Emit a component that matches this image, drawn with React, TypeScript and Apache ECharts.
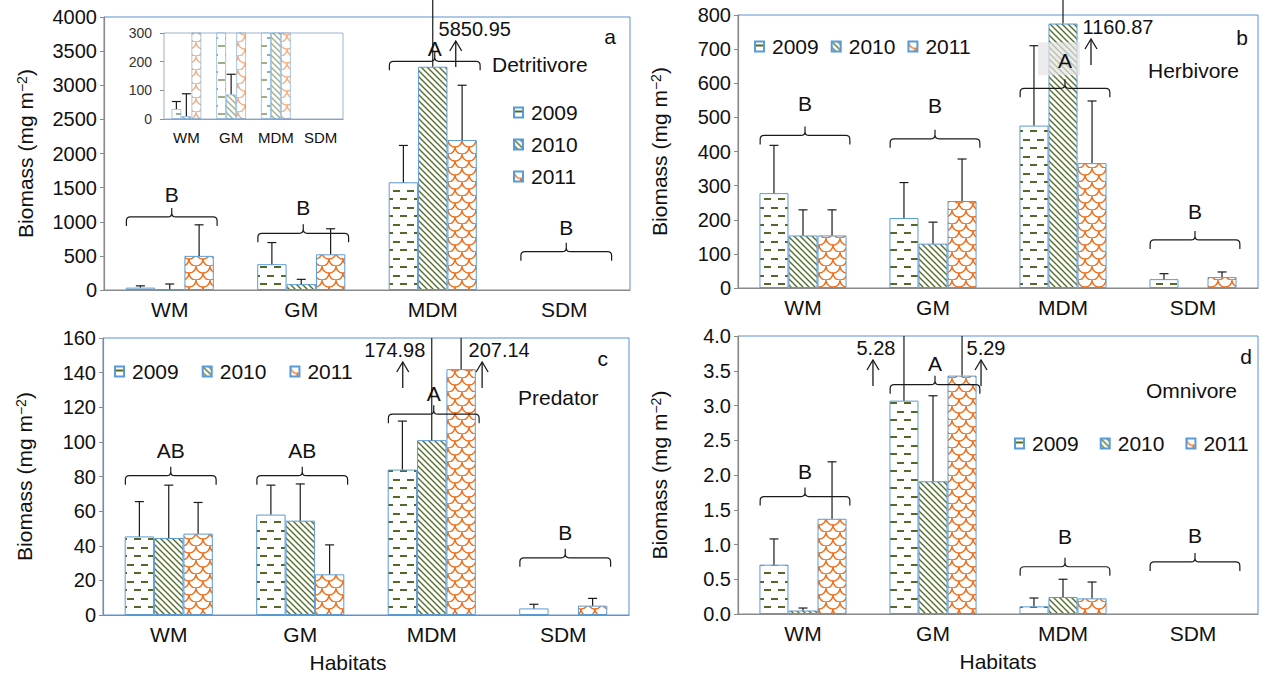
import React, { useEffect, useRef } from 'react';
import * as echarts from 'echarts';

const habitats = ['WM', 'GM', 'MDM', 'SDM'];
const years = ['2009', '2010', '2011'];
const panelTags = ['a', 'b', 'c', 'd'];
const panelNames = ['Detritivore', 'Herbivore', 'Predator', 'Omnivore'];

// (a) Detritivore
const detritivore2009 = [35, 378, 1578, 0];
const detritivore2010 = [10, 86, 3271, 0];
const detritivore2011 = [500, 523, 2197, 0];
const detritivoreUpper2009 = [61, 695, 2118, null];
const detritivoreUpper2010 = [88, 156, 5850.95, null];
const detritivoreUpper2011 = [955, 897, 3000, null];
const detritivoreBraceLevel = [1070, 831, 3350, 562];
const detritivoreLetters = ['B', 'B', 'A', 'B'];
const detritivoreTicks = [0, 500, 1000, 1500, 2000, 2500, 3000, 3500, 4000];
const insetTicks = [0, 100, 200, 300];

// (b) Herbivore
const herbivore2009 = [278, 205, 476, 26];
const herbivore2010 = [154, 130, 775, 0];
const herbivore2011 = [154, 255, 366, 32];
const herbivoreUpper2009 = [418, 309, 710, 42];
const herbivoreUpper2010 = [229, 193, 1160.87, null];
const herbivoreUpper2011 = [229, 378, 548, 47];
const herbivoreBraceLevel = [447, 437, 585, 141];
const herbivoreLetters = ['B', 'B', 'A', 'B'];
const herbivoreTicks = [0, 100, 200, 300, 400, 500, 600, 700, 800];

// (c) Predator
const predator2009 = [45.4, 58, 84, 3.8];
const predator2010 = [44.5, 54.5, 101, 0];
const predator2011 = [47, 23.5, 142, 5.4];
const predatorUpper2009 = [65.5, 75, 112, 6.2];
const predatorUpper2010 = [75, 75.7, 174.98, null];
const predatorUpper2011 = [65, 40.5, 207.14, 9.6];
const predatorBraceLevel = [80.5, 80.5, 116, 33];
const predatorLetters = ['AB', 'AB', 'A', 'B'];
const predatorTicks = [0, 20, 40, 60, 80, 100, 120, 140, 160];

// (d) Omnivore
const omnivore2009 = [0.71, 3.07, 0.11, 0];
const omnivore2010 = [0.05, 1.91, 0.245, 0];
const omnivore2011 = [1.37, 3.43, 0.225, 0];
const omnivoreUpper2009 = [1.08, 5.28, 0.23, null];
const omnivoreUpper2010 = [0.086, 3.14, 0.5, null];
const omnivoreUpper2011 = [2.19, 5.29, 0.46, null];
const omnivoreBraceLevel = [1.69, 3.3, 0.68, 0.75];
const omnivoreLetters = ['B', 'A', 'B', 'B'];
const omnivoreTicks = [0, 0.5, 1, 1.5, 2, 2.5, 3, 3.5, 4];

const FF = '"Liberation Sans", Arial, Helvetica, sans-serif';
const INK = '#111111';
const AXIS = '#8a8a8a';
const FRAME = '#5b8fd0';
const BAR_BORDER = '#5b9bd5';
const GAP = 0.33;

const panels = [
  { means: [detritivore2009, detritivore2010, detritivore2011], uppers: [detritivoreUpper2009, detritivoreUpper2010, detritivoreUpper2011], levels: detritivoreBraceLevel, letters: detritivoreLetters, ticks: detritivoreTicks, dec: 0, clipErr: false },
  { means: [herbivore2009, herbivore2010, herbivore2011], uppers: [herbivoreUpper2009, herbivoreUpper2010, herbivoreUpper2011], levels: herbivoreBraceLevel, letters: herbivoreLetters, ticks: herbivoreTicks, dec: 0, clipErr: false },
  { means: [predator2009, predator2010, predator2011], uppers: [predatorUpper2009, predatorUpper2010, predatorUpper2011], levels: predatorBraceLevel, letters: predatorLetters, ticks: predatorTicks, dec: 0, clipErr: true },
  { means: [omnivore2009, omnivore2010, omnivore2011], uppers: [omnivoreUpper2009, omnivoreUpper2010, omnivoreUpper2011], levels: omnivoreBraceLevel, letters: omnivoreLetters, ticks: omnivoreTicks, dec: 1, clipErr: true },
];

const layouts = [
  { left: 104, top: 17, width: 526, height: 273, xName: '', legend: { orient: 'vertical', left: 513, top: 102, itemGap: 11 }, tag: [616, 36], title: [492, 64], notes: [[42, 23]], rise: [22, 26, 13, 24], letterBox: [false, false, false, false] },
  { left: 738, top: 15, width: 520, height: 273, xName: '', legend: { orient: 'horizontal', left: 754, top: 36, itemGap: 12 }, tag: [1248, 37], title: [1148, 70], notes: [[55, 28]], rise: [32, 33, 28, 28], letterBox: [false, false, true, false] },
  { left: 103, top: 338, width: 526, height: 277, xName: 'Habitats', legend: { orient: 'horizontal', left: 114, top: 361, itemGap: 23 }, tag: [608, 358], title: [518, 397], notes: [[-37, -29], [38, 21]], rise: [25, 25, 21, 25], letterBox: [false, false, false, false] },
  { left: 738, top: 336, width: 520, height: 278, xName: 'Habitats', legend: { orient: 'horizontal', left: 1014, top: 433, itemGap: 21 }, tag: [1252, 356], title: [1146, 390], notes: [[-28, -31], [24, 19]], rise: [25, 21, 30, 26], letterBox: [false, false, false, false] },
];
const insetLayout = { left: 164, top: 33, width: 179, height: 86 };

function makeTile(kind: number) {
  const c = document.createElement('canvas');
  let w = 14, h = 17;
  if (kind === 1) { w = 6; h = 6; }
  if (kind === 2) { w = 14; h = 14; }
  c.width = w; c.height = h;
  const ctx = c.getContext('2d')!;
  ctx.fillStyle = '#ffffff';
  ctx.fillRect(0, 0, w, h);
  if (kind === 0) {
    ctx.fillStyle = '#52692a';
    ctx.fillRect(1, 3, 7, 2);
    ctx.fillRect(8, 11, 6, 2);
    ctx.fillRect(0, 11, 1, 2);
  } else if (kind === 1) {
    ctx.strokeStyle = '#55702a';
    ctx.lineWidth = 1.4;
    ctx.beginPath();
    for (let k = -1; k <= 1; k++) {
      ctx.moveTo(-1, -1 + 6 * k);
      ctx.lineTo(7, 7 + 6 * k);
    }
    ctx.stroke();
  } else {
    ctx.strokeStyle = '#f0701e';
    ctx.lineWidth = 1.4;
    const r = 7;
    [[7, 0], [0, 7], [14, 7]].forEach(([cx, cy]) => {
      ctx.beginPath();
      ctx.arc(cx, cy, r, 0, Math.PI);
      ctx.stroke();
    });
  }
  return { image: c.toDataURL(), repeat: 'repeat', imageWidth: w, imageHeight: h };
}

export default function App() {
  const ref = useRef<HTMLDivElement>(null);
  useEffect(() => {
    if (!ref.current) return;
    const chart = echarts.init(ref.current, null, { renderer: 'svg' });
    const patterns = [makeTile(0), makeTile(1), makeTile(2)];

    const grids: any[] = [];
    const xAxes: any[] = [];
    const yAxes: any[] = [];
    const legends: any[] = [];
    const graphics: any[] = [];
    const barSeries: any[] = [];
    const customSeries: any[] = [];

    const mkX = (gi: number, fs: number, margin: number, name: string, namePad: number[]) => ({
      type: 'category', gridIndex: gi, data: habitats,
      axisLine: { lineStyle: { color: AXIS, width: 1.2 } },
      axisTick: { show: false },
      axisLabel: { fontSize: fs, color: INK, margin, fontFamily: FF, interval: 0 },
      name, nameLocation: 'middle', nameGap: 37,
      nameTextStyle: { fontSize: 21, color: INK, fontFamily: FF, padding: namePad },
    });
    const mkY = (gi: number, ticks: number[], dec: number, fs: number, withName: boolean) => ({
      type: 'value', gridIndex: gi, min: ticks[0], max: ticks[ticks.length - 1], interval: ticks[1] - ticks[0],
      axisLine: { show: true, lineStyle: { color: AXIS, width: 1.2 } },
      axisTick: { show: true, length: 4, lineStyle: { color: AXIS } },
      splitLine: { show: false },
      axisLabel: { fontSize: fs, color: withName ? INK : '#333', margin: withName ? 7 : 12, fontFamily: FF, formatter: (v: number) => v.toFixed(dec) },
      name: withName ? '{n|Biomass (mg m}{s|−2}{n|)}' : '', nameLocation: 'middle', nameGap: 68,
      nameTextStyle: { rich: { n: { fontSize: 21, fontFamily: FF, color: INK }, s: { fontSize: 14, fontFamily: FF, color: INK, verticalAlign: 'top' } } },
    });

    const mkBar = (gi: number, s: number, vals: number[], inset: boolean) => ({
      type: 'bar', name: years[s], xAxisIndex: gi, yAxisIndex: gi,
      data: vals.map((v) => (v === 0 ? '-' : v)),
      barGap: '0%', barCategoryGap: (GAP * 100) + '%',
      itemStyle: { color: patterns[s], borderColor: BAR_BORDER, borderWidth: 1, opacity: inset ? 0.55 : 1 },
      emphasis: { disabled: true }, silent: true, z: 2,
    });

    const mkErr = (gi: number, means: number[][], uppers: (number | null)[][], max: number, clip: boolean) => {
      const data: number[][] = [];
      for (let s = 0; s < 3; s++) for (let c = 0; c < 4; c++) {
        const u = uppers[s][c];
        if (u == null) continue;
        data.push([c, s, means[s][c], u]);
      }
      return {
        type: 'custom', xAxisIndex: gi, yAxisIndex: gi, silent: true, z: 5, clip: false,
        encode: { x: 0, y: 2 }, data,
        renderItem: (params: any, api: any) => {
          const c = api.value(0), s = api.value(1), m = api.value(2), u = api.value(3);
          if (clip && m >= max) return null;
          const band = api.size([1, 0])[0];
          const bw = band * (1 - GAP) / 3;
          const base = api.coord([c, m]);
          const x = base[0] + (s - 1) * bw;
          const yTop = api.coord([c, clip ? Math.min(u, max) : u])[1];
          const st = { stroke: '#1a1a1a', lineWidth: 1.2, fill: 'none' };
          const children: any[] = [{ type: 'line', shape: { x1: x, y1: base[1], x2: x, y2: yTop }, style: st }];
          if (u <= max) children.push({ type: 'line', shape: { x1: x - 4.5, y1: yTop, x2: x + 4.5, y2: yTop }, style: st });
          return { type: 'group', children };
        },
      };
    };

    panels.forEach((p, i) => {
      const L = layouts[i];
      const max = p.ticks[p.ticks.length - 1];
      grids.push({ left: L.left, top: L.top, width: L.width, height: L.height, show: true, borderColor: FRAME, borderWidth: 1, backgroundColor: 'transparent' });
      xAxes.push(mkX(i, 21, 9, L.xName, i === 2 ? [0, 36, 0, 0] : [0, 0, 0, 0]));
      yAxes.push(mkY(i, p.ticks, p.dec, 20, true));
      legends.push({
        data: years, orient: L.legend.orient, left: L.legend.left, top: L.legend.top, itemGap: L.legend.itemGap,
        padding: 0, icon: 'rect', itemWidth: 9, itemHeight: 10, selectedMode: false,
        textStyle: { fontSize: 21, fontFamily: FF, color: INK, padding: [0, 0, 0, 3] },
      });
      graphics.push({ type: 'text', x: L.tag[0], y: L.tag[1], style: { text: panelTags[i], fontSize: 21, fontFamily: FF, fill: INK, align: 'right', verticalAlign: 'middle' } });
      graphics.push({ type: 'text', x: L.title[0], y: L.title[1], style: { text: panelNames[i], fontSize: 21, fontFamily: FF, fill: INK, align: 'left', verticalAlign: 'middle' } });
      for (let s = 0; s < 3; s++) barSeries.push(mkBar(i, s, p.means[s], false));
      customSeries.push(mkErr(i, p.means, p.uppers, max, p.clipErr));

      // braces with significance letters
      const letters = p.letters;
      const boxes = L.letterBox;
      const rise = L.rise;
      customSeries.push({
        type: 'custom', xAxisIndex: i, yAxisIndex: i, silent: true, z: 6, clip: false,
        encode: { x: 0, y: 1 },
        data: p.levels.map((lv, c) => [c, lv]),
        renderItem: (params: any, api: any) => {
          const c = api.value(0), lv = api.value(1);
          const pt = api.coord([c, lv]);
          const band = api.size([1, 0])[0];
          const hw = band * 0.345;
          const C = pt[0] + 2, Y = pt[1], Lx = C - hw, R = C + hw;
          const d = 9, pk = 9, r = 4;
          const pathData = `M${Lx},${Y + d} L${Lx},${Y + r} Q${Lx},${Y} ${Lx + r},${Y} L${C - 4},${Y} Q${C},${Y} ${C},${Y - 4} L${C},${Y - pk} M${C},${Y - 4} Q${C},${Y} ${C + 4},${Y} L${R - r},${Y} Q${R},${Y} ${R},${Y + r} L${R},${Y + d}`;
          const ly = Y - rise[params.dataIndex];
          const children: any[] = [];
          if (boxes[params.dataIndex]) children.push({ type: 'rect', shape: { x: C - 27, y: ly - 18, width: 42, height: 33 }, style: { fill: 'rgba(228,228,228,0.7)' } });
          children.push({ type: 'path', shape: { pathData }, style: { stroke: '#1a1a1a', lineWidth: 1.2, fill: 'none' } });
          children.push({ type: 'text', x: C, y: ly, style: { text: letters[params.dataIndex], fontSize: 21, fontFamily: FF, fill: INK, align: 'center', verticalAlign: 'middle' } });
          return { type: 'group', children };
        },
      });

      // off-scale annotations
      const notes: number[][] = [];
      for (let s = 0; s < 3; s++) for (let c = 0; c < 4; c++) {
        const u = p.uppers[s][c];
        if (u != null && u > max) notes.push([c, s, u]);
      }
      const offs = L.notes;
      customSeries.push({
        type: 'custom', xAxisIndex: i, yAxisIndex: i, silent: true, z: 7, clip: false,
        encode: { x: 0, y: 2 }, data: notes,
        renderItem: (params: any, api: any) => {
          const c = api.value(0), s = api.value(1), u = api.value(2);
          const band = api.size([1, 0])[0];
          const bw = band * (1 - GAP) / 3;
          const top = api.coord([c, max]);
          const bx = top[0] + (s - 1) * bw;
          const o = offs[params.dataIndex];
          const ax = bx + o[1];
          const t = top[1];
          const st = { stroke: '#1a1a1a', lineWidth: 1.3, fill: 'none' };
          return {
            type: 'group', children: [
              { type: 'text', x: bx + o[0], y: t + 12, style: { text: u.toFixed(2), fontSize: 20, fontFamily: FF, fill: INK, align: 'center', verticalAlign: 'middle' } },
              { type: 'line', shape: { x1: ax, y1: t + 24, x2: ax, y2: t + 50 }, style: st },
              { type: 'polyline', shape: { points: [[ax - 6, t + 34], [ax, t + 24], [ax + 6, t + 34]] }, style: st },
            ],
          };
        },
      });
    });

    // inset of panel a (same data, 0–300 scale)
    const ip = panels[0];
    const imax = insetTicks[insetTicks.length - 1];
    grids.push({ ...insetLayout, show: true, borderColor: '#9fb4cf', borderWidth: 1, backgroundColor: '#ffffff', z: 1 });
    xAxes.push({ ...mkX(4, 15, 11, '', [0, 0, 0, 0]) });
    yAxes.push(mkY(4, insetTicks, 0, 14, false));
    for (let s = 0; s < 3; s++) barSeries.push(mkBar(4, s, ip.means[s], true));
    customSeries.push(mkErr(4, ip.means, ip.uppers, imax, true));

    chart.setOption({
      animation: false,
      backgroundColor: '#ffffff',
      textStyle: { fontFamily: FF },
      grid: grids, xAxis: xAxes, yAxis: yAxes, legend: legends,
      graphic: graphics,
      series: [...barSeries, ...customSeries],
    });
    return () => chart.dispose();
  }, []);
  return <div ref={ref} style={{ position: 'absolute', left: 0, top: 0, width: 1266, height: 677, background: '#fff' }} />;
}
